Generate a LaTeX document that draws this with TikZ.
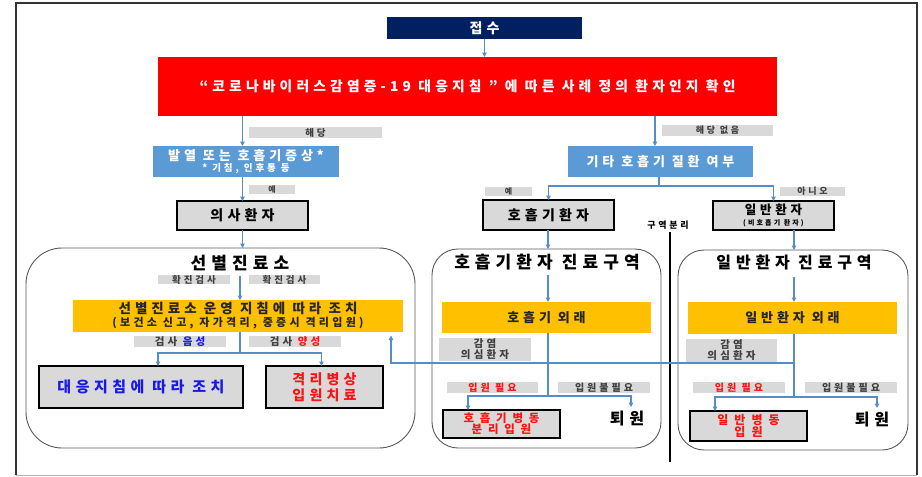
\documentclass[tikz,border=0pt]{standalone}
\usepackage{fontspec}
\setmainfont{Noto Sans CJK KR}[LetterSpace=30]
\usetikzlibrary{arrows.meta}
\definecolor{navy}{RGB}{0,32,96}
\definecolor{lblue}{RGB}{91,155,213}
\definecolor{lgray}{RGB}{217,217,217}
\definecolor{gold}{RGB}{255,192,0}
\definecolor{ablue}{RGB}{84,141,200}
\definecolor{tblue}{RGB}{25,25,225}
\definecolor{tred}{RGB}{250,20,20}
\newcommand\fsz[2]{\fontsize{#1}{#2}\selectfont}
\newcommand\wide{\addfontfeature{LetterSpace=50}}
\begin{document}
\begin{tikzpicture}[x=1pt,y=-1pt,
  every node/.style={inner sep=0pt, outer sep=0pt, align=center},
  nv/.style={fill=navy, text=white, font=\bfseries\fsz{14}{16}},
  redbox/.style={fill=red, text=white, font=\bfseries\fsz{13.8}{16}},
  lbl/.style={fill=lgray, text=black!75, minimum height=11, font=\bfseries\fsz{9.5}{10}},
  bluebox/.style={fill=lblue, text=white, font=\bfseries\fsz{13}{14}},
  gbox/.style={fill=lgray, draw=black, line width=1.8pt, font=\bfseries\fsz{14}{15}},
  yel/.style={fill=gold, text=black!85, font=\bfseries\fsz{13}{14}},
  zone/.style={draw=black!65, line width=0.9pt},
  ttl/.style={text=black, font=\bfseries\fsz{17}{19}},
  big/.style={text=black, font=\bfseries\fsz{16}{18}},
  ln/.style={draw=ablue, line width=1.2pt},
  arr/.style={draw=ablue, line width=1.2pt, -{Triangle[length=4.5pt,width=4.5pt]}},
  sepline/.style={draw=black, line width=2.2pt}
]
\useasboundingbox (0,0) rectangle (922,477);
% frame
\draw[black!30, line width=1pt] (16,475) -- (917,475);
\draw[black!80, line width=1.2pt] (16,475) -- (16,3) -- (917,3) -- (917,475);

% zones
\node[zone, rounded corners=36pt, minimum width=389, minimum height=200] (zoneL) at (220.5,348) {};
\node[zone, rounded corners=26pt, minimum width=229, minimum height=199] (zoneM) at (546.5,348.5) {};
\node[zone, rounded corners=26pt, minimum width=230, minimum height=200] (zoneR) at (793,350) {};

% top
\node[nv, minimum width=195, minimum height=22] (recv) at (484.5,28) {접수};
\node[redbox, minimum width=619, minimum height=59] (red) at (467.5,86.5) {“코로나바이러스감염증-19 대응지침 ” 에 따른 사례 정의 환자인지 확인};

\node[lbl, minimum width=133] (l1) at (315.5,132.5) {해당};
\node[bluebox, minimum width=186, minimum height=31] (fever) at (246,161.5) {발열 또는 호흡기증상*\\[-3pt]{\fsz{9.5}{10}* 기침, 인후통 등}};
\node[lbl, minimum width=46, minimum height=9, font=\bfseries\fsz{8}{9}] (l2) at (272,189) {예};
\node[gbox, minimum width=131, minimum height=29] (suspect) at (242.5,215.5) {의사환자};

\node[lbl, minimum width=111, font=\bfseries\fsz{9}{10}] (l3) at (717.5,130.5) {해당 없음};
\node[bluebox, minimum width=185, minimum height=31] (other) at (660.5,161.5) {기타 호흡기 질환 여부};
\node[lbl, minimum width=47, minimum height=9, font=\bfseries\fsz{8}{9}] (l4) at (508.5,191.5) {예};
\node[lbl, minimum width=65, minimum height=9, font=\bfseries\fsz{9}{9}] (l5) at (812.5,191.5) {아니오};
\node[gbox, minimum width=131, minimum height=30] (resp) at (548.5,215) {호흡기환자};
\node[gbox, minimum width=121, minimum height=29, font=\bfseries\fsz{12.5}{12}] (gen) at (773.5,215.5) {일반환자\\[-1pt]{\fsz{7}{7}(비호흡기 환자)}};

\node[font=\bfseries\fsz{9}{10}] (zsep) at (668,225) {구역분리};
\coordinate (zend) at (670,462);
\draw[sepline] (zsep.south -| zend) ++(0,3) -- (zend);

% titles
\node[ttl] (tL) at (240,263) {선별진료소};
\node[ttl] (tM) at (547,262) {호흡기환자 진료구역};
\node[ttl, font=\bfseries\fsz{16}{18}] (tR) at (794,262) {일반환자 진료구역};

% left zone
\node[lbl, minimum width=72, minimum height=9] (l6) at (194,279.5) {확진검사};
\node[lbl, minimum width=71, minimum height=9] (l7) at (284.5,279.5) {확진검사};
\node[yel, minimum width=330, minimum height=32, font=\bfseries\fsz{13.5}{13}] (yel1) at (238,316) {선별진료소 운영 지침에 따라 조치\\{\fsz{11}{12}(보건소 신고, 자가격리, 중증시 격리입원)}};
\node[lbl, minimum width=92, font=\bfseries\fsz{10.5}{11}] (l8) at (180,341.5) {검사 {\color{tblue}음성}};
\node[lbl, minimum width=92, font=\bfseries\fsz{10.5}{11}] (l9) at (295,341.5) {검사 {\color{tred}양성}};
\node[gbox, minimum width=204, minimum height=42, text=tblue, font=\bfseries\fsz{15}{16}] (resp1) at (141,387) {대응지침에 따라 조치};
\node[gbox, minimum width=117, minimum height=42, text=tred, font=\bfseries\fsz{14}{15.5}] (iso) at (324.5,387) {격리병상\\입원치료};

% middle zone
\node[yel, minimum width=209, minimum height=31] (yel2) at (546.5,317.5) {호흡기 외래};
\node[lbl, minimum width=92, minimum height=23, font=\bfseries\fsz{10.5}{11}] (s1) at (485,349.5) {감염\\의심환자};
\node[lbl, minimum width=91, text=tred, font=\bfseries\fsz{10}{10}] (n1) at (492.5,387.5) {입원 필요};
\node[lbl, minimum width=92, font=\bfseries\fsz{10}{10}] (n2) at (604,387.5) {입원불필요};
\node[gbox, minimum width=117, minimum height=28, text=tred, font=\bfseries\fsz{11.5}{11}\wide] (ward1) at (501.5,424) {호흡기병동\\분리입원};
\node[big] (out1) at (627,419) {퇴원};

% right zone
\node[yel, minimum width=209, minimum height=32] (yel3) at (792.5,318) {일반환자 외래};
\node[lbl, minimum width=91, minimum height=23, font=\bfseries\fsz{10.5}{11}] (s2) at (731.5,350.5) {감염\\의심환자};
\node[lbl, minimum width=92, text=tred, font=\bfseries\fsz{10}{10}] (n3) at (739,387.5) {입원 필요};
\node[lbl, minimum width=92, font=\bfseries\fsz{10}{10}] (n4) at (851,387.5) {입원불필요};
\node[gbox, minimum width=117, minimum height=30, text=tred, font=\bfseries\fsz{12}{11.5}\wide] (ward2) at (748.5,426) {일반병동\\입원};
\node[big] (out2) at (872,420) {퇴원};

% coordinates
\coordinate (vL) at (240,0);
\coordinate (vM) at (548,0);
\coordinate (vR) at (794,0);
\coordinate (j) at (659,186);
\coordinate (b1) at (240,353);
\coordinate (b2) at (548,396);
\coordinate (b3) at (794,397);
\coordinate (e2) at (631,407);
\coordinate (e3) at (877,408);
\coordinate (fb) at (391,363);

% connectors
\draw[arr] (recv.south) -- (recv.south |- red.north);
\draw[arr] (suspect.north |- red.south) -- (suspect.north |- fever.north);
\draw[arr] ([xshift=-5.5pt]other.north |- red.south) -- ([xshift=-5.5pt]other.north);
\draw[arr] (suspect.north |- fever.south) -- (suspect.north);
\draw[ln] (other.south -| j) -- (j);
\draw[arr] (j) -| (resp.north);
\draw[arr] (j) -| (gen.north);

\draw[arr] (suspect.south) -- (suspect.south |- zoneL.north);
\draw[arr] (resp.south -| vM) -- (zoneM.north -| vM);
\draw[arr] (gen.south -| vR) -- (zoneR.north -| vR);

\draw[arr] (tL.south -| vL) ++(0,5) -- (yel1.north -| vL);
\draw[arr] (tM.south -| vM) ++(0,5) -- (yel2.north -| vM);
\draw[arr] (tR.south -| vR) ++(0,7) -- (yel3.north -| vR);

\draw[ln] (yel1.south -| b1) -- (b1);
\draw[arr] (b1) -| ([xshift=17pt]resp1.north);
\draw[arr] (b1) -| ([xshift=-3pt]iso.north);

\draw[ln] (yel2.south -| b2) -- (b2);
\draw[arr] (b2) -| ([xshift=-33.5pt]ward1.north);
\draw[arr] (b2) -| (e2);

\draw[ln] (yel3.south -| b3) -- (b3);
\draw[arr] (b3) -| ([xshift=-33.5pt]ward2.north);
\draw[arr] (b3) -| (e3);

\draw[arr] (vR |- fb) -- (fb) -- ([yshift=-3.5pt]fb |- yel1.south);
\end{tikzpicture}
\end{document}
